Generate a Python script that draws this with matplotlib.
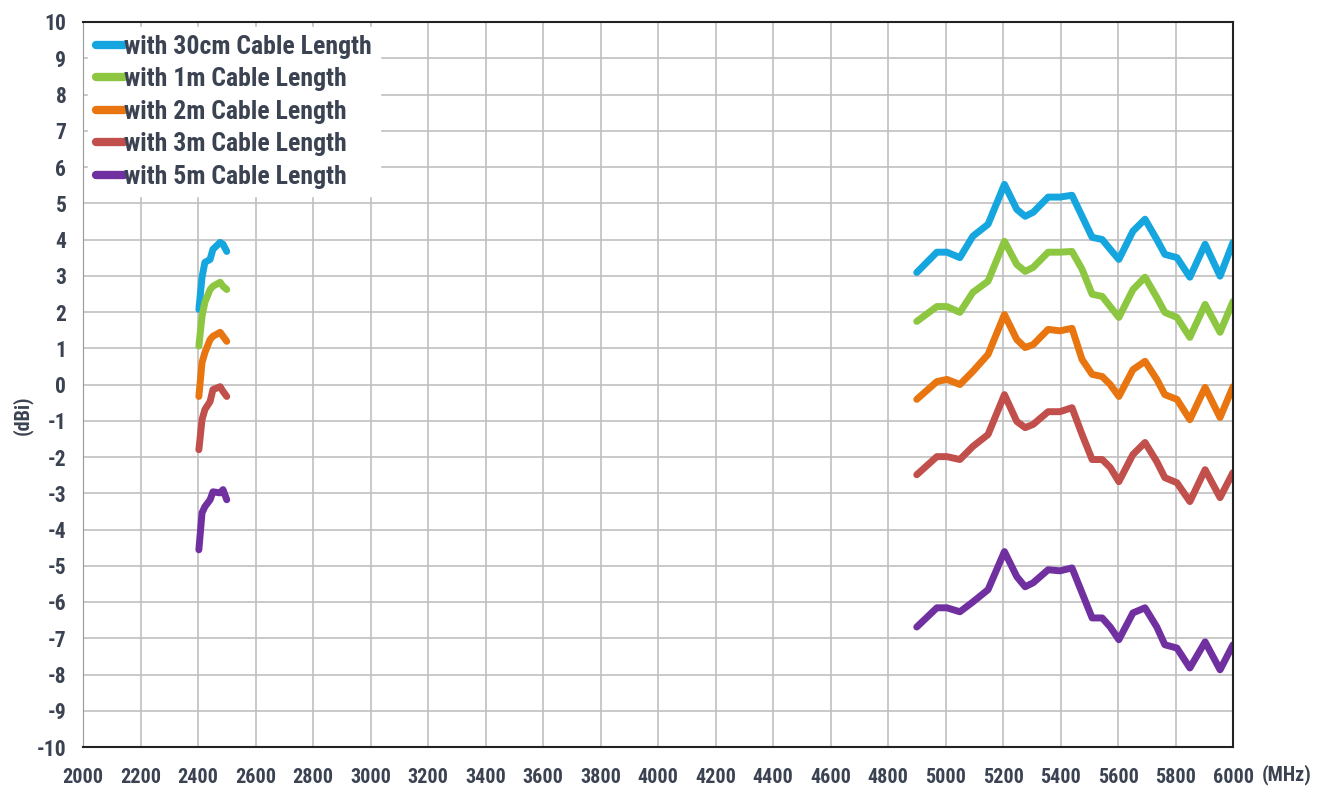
import matplotlib
matplotlib.use("Agg")
import matplotlib.pyplot as plt
from matplotlib import font_manager

names = {f.name for f in font_manager.fontManager.ttflist}
FONT = "Liberation Sans"
NARROW = False
for cand in ["Roboto Condensed", "Liberation Sans Narrow"]:
    if cand in names:
        FONT = cand
        NARROW = True
        break
plt.rcParams['font.family'] = [FONT, 'DejaVu Sans']
plt.rcParams['axes.unicode_minus'] = False

labels = ["with 30cm Cable Length", "with 1m Cable Length", "with 2m Cable Length",
          "with 3m Cable Length", "with 5m Cable Length"]
colors = ["#16a6df", "#8dc641", "#e8750f", "#c14f4b", "#7030a0"]

# 2.4 GHz band
f24 = [2403, 2414, 2424, 2442, 2452, 2477, 2487, 2500]
b24_30cm = [2.07, 2.96, 3.37, 3.45, 3.73, 3.92, 3.87, 3.67]
b24_1m = [1.06, 1.88, 2.27, 2.62, 2.71, 2.82, 2.71, 2.62]
b24_2m = [-0.33, 0.61, 0.88, 1.24, 1.33, 1.44, 1.33, 1.19]
b24_3m = [-1.80, -0.97, -0.69, -0.47, -0.14, -0.06, -0.19, -0.33]
b24_5m = [-4.56, -3.54, -3.37, -3.18, -2.96, -2.99, -2.90, -3.18]

# 5 GHz band
f5 = [4900, 4970, 5005, 5050, 5095, 5148, 5205, 5248, 5277, 5305, 5357, 5398, 5440,
      5475, 5510, 5545, 5573, 5603, 5652, 5694, 5735, 5763, 5805, 5850, 5903, 5955, 6000]
b5_30cm = [3.09, 3.65, 3.65, 3.50, 4.09, 4.42, 5.52, 4.83, 4.64, 4.75, 5.17, 5.17, 5.22,
           4.64, 4.06, 4.00, 3.73, 3.45, 4.23, 4.56, 4.00, 3.59, 3.50, 2.96, 3.87, 2.99, 3.92]
b5_1m = [1.74, 2.15, 2.15, 1.99, 2.54, 2.85, 3.95, 3.31, 3.12, 3.23, 3.65, 3.65, 3.67,
         3.18, 2.49, 2.43, 2.15, 1.85, 2.62, 2.96, 2.40, 1.99, 1.85, 1.30, 2.21, 1.44, 2.29]
b5_2m = [-0.41, 0.08, 0.14, 0.00, 0.36, 0.83, 1.93, 1.24, 1.02, 1.10, 1.52, 1.48, 1.55,
         0.69, 0.28, 0.22, 0.00, -0.33, 0.41, 0.64, 0.14, -0.28, -0.41, -0.97, -0.08, -0.91, -0.06]
b5_3m = [-2.49, -1.99, -1.99, -2.07, -1.71, -1.38, -0.28, -1.02, -1.19, -1.10, -0.75, -0.75, -0.64,
         -1.38, -2.07, -2.07, -2.29, -2.68, -1.93, -1.60, -2.13, -2.57, -2.71, -3.23, -2.35, -3.12, -2.43]
b5_5m = [-6.69, -6.16, -6.16, -6.27, -6.00, -5.66, -4.61, -5.30, -5.58, -5.47, -5.11, -5.14, -5.06,
         -5.75, -6.44, -6.44, -6.69, -7.04, -6.30, -6.16, -6.69, -7.18, -7.27, -7.82, -7.10, -7.87, -7.18]

x_ticks = list(range(2000, 6001, 200))
y_ticks = list(range(-10, 11, 1))

series24 = [b24_30cm, b24_1m, b24_2m, b24_3m, b24_5m]
series5 = [b5_30cm, b5_1m, b5_2m, b5_3m, b5_5m]

fig = plt.figure(figsize=(13.24, 7.92), dpi=100)
ax = fig.add_axes([83 / 1324, 1 - 747 / 792, 1150 / 1324, 725 / 792])

lw = 5.0
for lab, c, s24, s5 in zip(labels, colors, series24, series5):
    ax.plot(f24, s24, color=c, lw=lw, solid_joinstyle='round', solid_capstyle='round', label=lab)
    ax.plot(f5, s5, color=c, lw=lw, solid_joinstyle='round', solid_capstyle='round')

ax.set_xlim(2000, 6000)
ax.set_ylim(-10, 10)
ax.set_xticks(x_ticks)
ax.set_yticks(y_ticks)
ax.grid(True, color="#c0c0c0", lw=1.2)
ax.set_axisbelow(True)
txtc = "#3b4352"
xfs = 14.5 if NARROW else 12
yfs = 15.5 if NARROW else 12
ax.tick_params(length=0, labelcolor=txtc)
ax.tick_params(axis='y', pad=12, labelsize=yfs)
ax.tick_params(axis='x', pad=15, labelsize=xfs)
for t in ax.get_xticklabels() + ax.get_yticklabels():
    t.set_fontweight('bold')
for sp in ['top', 'right', 'bottom']:
    ax.spines[sp].set_color('#222222')
    ax.spines[sp].set_linewidth(1.5)
ax.spines['left'].set_color('#999999')

fig.text(22 / 1324, 1 - 415 / 792, "(dBi)", rotation=90, fontsize=xfs, fontweight='bold',
         color=txtc, ha='center', va='center')
fig.text(1262 / 1324, 1 - 775 / 792, "(MHz)", fontsize=xfs, fontweight='bold',
         color=txtc, ha='left', va='center')

leg = ax.legend(loc='upper left', frameon=True, fancybox=False, framealpha=1,
                edgecolor='white', fontsize=(18.5 if NARROW else 14.5), handlelength=1.1,
                handletextpad=0.0, labelspacing=0.33, borderaxespad=0.2, borderpad=0.3)
for t in leg.get_texts():
    t.set_color(txtc)
    t.set_fontweight('bold')
for h in leg.get_lines():
    h.set_linewidth(6)

fig.savefig("out.png", dpi=100)
